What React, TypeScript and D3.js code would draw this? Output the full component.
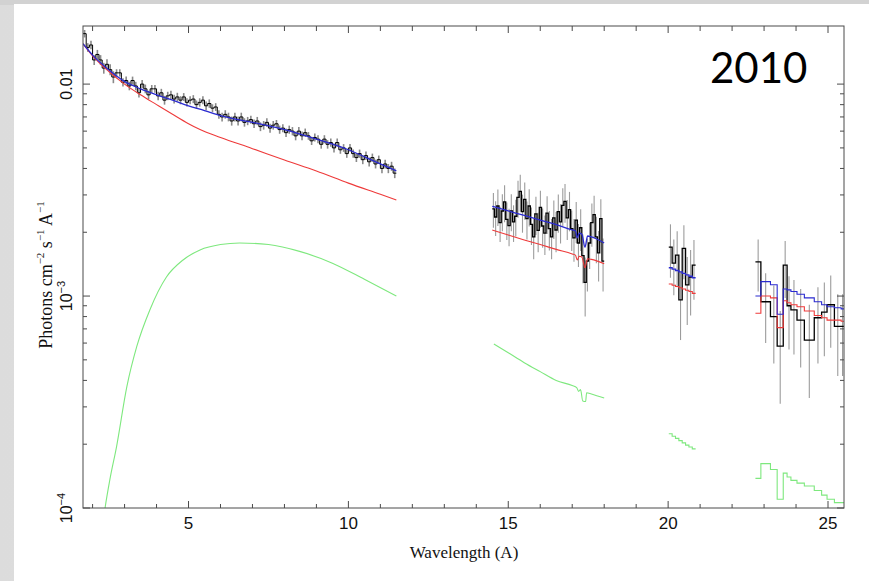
import React from 'react';
import * as d3 from 'd3';

// segment 1: 1.7 - 11.5 A, bins of 0.1 A
const seg1Start = 1.7;
const seg1Bin = 0.1;
const seg1Flux = [
  0.0173, 0.0149, 0.0153, 0.0130, 0.0138, 0.0130, 0.0119, 0.0124, 0.0117, 0.0108,
  0.0113, 0.0113, 0.0102, 0.0104, 0.0098, 0.0104, 0.0098, 0.0091, 0.0100, 0.0095,
  0.0089, 0.0095, 0.0095, 0.0088, 0.0091, 0.0084, 0.0088, 0.0089, 0.0085, 0.0087,
  0.0084, 0.0087, 0.0082, 0.0084, 0.0085, 0.0080, 0.0082, 0.0084, 0.0079, 0.0081,
  0.0077, 0.0078, 0.0072, 0.0070, 0.0072, 0.0070, 0.0067, 0.0070, 0.0067, 0.0070,
  0.0066, 0.0067, 0.0068, 0.0065, 0.0067, 0.0063, 0.0064, 0.0066, 0.0062, 0.0064,
  0.0065, 0.0061, 0.0062, 0.0059, 0.0061, 0.0060, 0.0057, 0.0060, 0.0057, 0.0059,
  0.0057, 0.0054, 0.0056, 0.0055, 0.0052, 0.0055, 0.0052, 0.0053, 0.0050, 0.0053,
  0.0049, 0.0050, 0.0047, 0.0050, 0.0047, 0.0045, 0.0047, 0.0044, 0.0046, 0.0043,
  0.0045, 0.0042, 0.0044, 0.0040, 0.0042, 0.0040, 0.0041, 0.0038,
];
// error size per 1 A band, starting at 1.7
const seg1SigmaBands = [0.0007, 0.00045, 0.0004, 0.00037, 0.00033, 0.0003, 0.00027, 0.00024, 0.00021, 0.0002];

const seg1Total: [number, number][] = [
  [1.7, 0.0155], [2.0, 0.0137], [2.5, 0.0117], [3.0, 0.0103], [3.5, 0.0095], [4.0, 0.0089],
  [4.5, 0.0084], [5.0, 0.0079], [5.5, 0.0075], [6.0, 0.0071], [7.0, 0.0066], [8.0, 0.0061],
  [9.0, 0.0055], [10.0, 0.0049], [11.0, 0.0042], [11.5, 0.0039],
];
const seg1Power: [number, number][] = [
  [1.7, 0.0155], [2.0, 0.0136], [2.5, 0.0115], [3.0, 0.0100], [3.5, 0.0089], [4.0, 0.0080],
  [4.5, 0.0072], [5.0, 0.0065], [5.36, 0.0061], [6.0, 0.0056], [7.0, 0.00496], [8.0, 0.00438],
  [9.0, 0.00389], [10.0, 0.00341], [11.0, 0.00302], [11.5, 0.00284],
];
const seg1Thermal: [number, number][] = [
  [2.3, 0.00008], [2.39, 0.0001], [2.54, 0.000136], [2.75, 0.000195], [3.07, 0.000373], [3.38, 0.000577],
  [3.79, 0.00086], [4.31, 0.00123], [4.83, 0.00148], [5.36, 0.00165], [6.0, 0.00175],
  [6.6, 0.00178], [7.5, 0.00175], [8.5, 0.00162], [9.5, 0.00143], [10.5, 0.0012], [11.5, 0.001],
];

// segment 2: 14.5 - 18.0 A, bins of 0.07 A
const seg2Start = 14.5;
const seg2Bin = 0.07;
const seg2Flux = [
  0.00258, 0.00236, 0.00266, 0.00222, 0.00252, 0.00278, 0.00230, 0.00215, 0.00252, 0.00224,
  0.00238, 0.00292, 0.00312, 0.00250, 0.00286, 0.00232, 0.00266, 0.00218, 0.00190, 0.00244,
  0.00204, 0.00262, 0.00214, 0.00198, 0.00246, 0.00208, 0.00190, 0.00234, 0.00205, 0.00250,
  0.00224, 0.00268, 0.00280, 0.00234, 0.00256, 0.00208, 0.00188, 0.00228, 0.00178, 0.00210,
  0.00155, 0.00116, 0.00146, 0.00178, 0.00222, 0.00242, 0.00190, 0.00160, 0.00232, 0.00146,
];
const seg2Sigma = [
  0.00048, 0.00044, 0.00052, 0.00042, 0.00050, 0.00055, 0.00046, 0.00043, 0.00050, 0.00044,
  0.00047, 0.00058, 0.00062, 0.00051, 0.00057, 0.00047, 0.00053, 0.00044, 0.00041, 0.00050,
  0.00043, 0.00052, 0.00045, 0.00042, 0.00050, 0.00044, 0.00041, 0.00048, 0.00044, 0.00051,
  0.00047, 0.00055, 0.00058, 0.00050, 0.00054, 0.00045, 0.00043, 0.00050, 0.00041, 0.00047,
  0.00040, 0.00036, 0.00041, 0.00044, 0.00051, 0.00055, 0.00047, 0.00043, 0.00054, 0.00041,
];
const seg2Total: [number, number][] = [
  [14.5, 0.00265], [15.0, 0.00252], [15.5, 0.0024], [16.0, 0.00228], [16.5, 0.00217], [17.0, 0.00205],
  [17.1, 0.00203], [17.16, 0.00188], [17.22, 0.00198], [17.3, 0.00196], [17.4, 0.0017],
  [17.48, 0.00192], [17.6, 0.0019], [18.0, 0.00178],
];
const seg2Power: [number, number][] = [
  [14.5, 0.00205], [15.0, 0.00194], [15.5, 0.00184], [16.0, 0.00175], [16.5, 0.00166], [17.0, 0.00158],
  [17.1, 0.00156], [17.16, 0.00148], [17.22, 0.00154], [17.3, 0.00153], [17.4, 0.00136],
  [17.48, 0.0015], [17.6, 0.00149], [18.0, 0.00142],
];
const seg2Thermal: [number, number][] = [
  [14.55, 0.000594], [15.0, 0.00054], [15.5, 0.000485], [16.0, 0.00044], [16.5, 0.0004], [17.0, 0.000378],
  [17.14, 0.00037], [17.2, 0.000355], [17.26, 0.000362], [17.33, 0.00032], [17.42, 0.000318],
  [17.45, 0.00035], [17.6, 0.000345], [18.0, 0.00033],
];

// segment 3: 20.0 - 20.9 A
const seg3Edges = [20.02, 20.125, 20.23, 20.335, 20.44, 20.545, 20.65, 20.755, 20.86];
const seg3Flux = [0.0017, 0.00143, 0.00156, 0.00096, 0.00168, 0.00113, 0.00123, 0.0014];
const seg3Sigma = [0.00048, 0.00042, 0.00046, 0.00034, 0.00048, 0.0004, 0.00042, 0.00044];
const seg3Total = [0.00136, 0.00134, 0.00132, 0.0013, 0.00128, 0.00126, 0.00124, 0.00122];
const seg3Power = [0.00114, 0.001125, 0.00111, 0.001095, 0.00108, 0.001065, 0.00105, 0.00103];
const seg3Thermal = [0.000224, 0.000218, 0.000213, 0.000208, 0.000203, 0.000198, 0.000194, 0.00019];

// segment 4: 22.7 - 25.5 A
const seg4Edges = [22.73, 22.9, 23.2, 23.41, 23.6, 23.72, 23.84, 24.03, 24.26, 24.57, 24.8, 24.97, 25.2, 25.41, 25.5];
const seg4Flux = [0.00145, 0.00094, 0.0008, 0.00058, 0.0014, 0.0009, 0.00086, 0.00077, 0.00062, 0.00079, 0.00084, 0.00091, 0.00072, 0.00072];
const seg4Sigma = [0.0004, 0.00034, 0.00032, 0.00027, 0.00042, 0.00034, 0.00033, 0.00031, 0.00029, 0.00031, 0.00032, 0.00034, 0.0003, 0.0003];
const seg4Total = [0.001, 0.00117, 0.00113, 0.00082, 0.00108, 0.00107, 0.00105, 0.00102, 0.00098, 0.00094, 0.00091, 0.00089, 0.00088, 0.00087];
const seg4Power = [0.00083, 0.001, 0.00098, 0.00071, 0.00095, 0.00093, 0.00091, 0.00089, 0.00085, 0.00081, 0.00079, 0.00077, 0.00077, 0.00076];
const seg4Thermal = [0.000138, 0.000162, 0.000152, 0.00011, 0.000146, 0.00014, 0.000135, 0.000131, 0.000127, 0.000121, 0.000115, 0.00011, 0.000106, 0.000106];

const xMajor = [5, 10, 15, 20, 25];
const yMajor = [1e-4, 1e-3, 1e-2];
const yMajorLabels = [['10', '−4'], ['10', '−3'], ['0.01', '']];

const W = 869;
const H = 581;
const plot = { left: 83, right: 844, top: 26, bottom: 508 };

const BLACK = '#000';
const ERR = '#9c9c9c';
const BLUE = '#2a2ad0';
const RED = '#ee3a3a';
const GREEN = '#7ee87e';

type Bin = { x0: number; x1: number; v: number; s?: number };

const makeBins = (edges: number[], vals: number[], sig?: number[]): Bin[] =>
  vals.map((v, i) => ({ x0: edges[i], x1: edges[i + 1], v, s: sig ? sig[i] : undefined }));

const regularEdges = (start: number, width: number, n: number) =>
  d3.range(n + 1).map(i => start + width * i);

export default function App() {
  const x = d3.scaleLinear().domain([1.7, 25.5]).range([plot.left, plot.right]);
  const y = d3.scaleLog().domain([1e-4, 0.0188]).range([plot.bottom, plot.top]);

  const smooth = d3.line<[number, number]>()
    .x(d => x(d[0]))
    .y(d => y(d[1]))
    .curve(d3.curveMonotoneX);

  const step = (bins: Bin[]) => {
    const pts: [number, number][] = bins.map(b => [b.x0, b.v]);
    const last = bins[bins.length - 1];
    pts.push([last.x1, last.v]);
    return d3.line<[number, number]>()
      .x(d => x(d[0]))
      .y(d => y(d[1]))
      .curve(d3.curveStepAfter)(pts) || '';
  };

  const seg1Edges = regularEdges(seg1Start, seg1Bin, seg1Flux.length);
  const seg1Sigma = seg1Flux.map((_, i) => seg1SigmaBands[Math.min(seg1SigmaBands.length - 1, Math.floor(i * seg1Bin + 1e-6))]);
  const seg2Edges = regularEdges(seg2Start, seg2Bin, seg2Flux.length);

  const data1 = makeBins(seg1Edges, seg1Flux, seg1Sigma);
  const data2 = makeBins(seg2Edges, seg2Flux, seg2Sigma);
  const data3 = makeBins(seg3Edges, seg3Flux, seg3Sigma);
  const data4 = makeBins(seg4Edges, seg4Flux, seg4Sigma);
  const allData = [data1, data2, data3, data4];

  const xMinor = d3.range(2, 26).filter(v => !xMajor.includes(v));
  const yMinor: number[] = [];
  [1e-4, 1e-3, 1e-2].forEach(dec => {
    for (let k = 2; k <= 9; k++) {
      const v = dec * k;
      if (v < 0.0188) yMinor.push(v);
    }
  });

  const axisColor = '#4a4a4a';
  const sans = "'Liberation Sans', Arial, sans-serif";
  const serif = "'Liberation Serif', 'Times New Roman', serif";

  return (
    <svg width={W} height={H} style={{ position: 'absolute', left: 0, top: 0 }}>
      <defs>
        <linearGradient id="leftStrip" x1="0" x2="1" y1="0" y2="0">
          <stop offset="0" stopColor="#dcdcdc" />
          <stop offset="1" stopColor="#e8e8e8" />
        </linearGradient>
        <clipPath id="plotClip">
          <rect x={plot.left} y={plot.top} width={plot.right - plot.left} height={plot.bottom - plot.top} />
        </clipPath>
      </defs>
      <rect x={0} y={0} width={W} height={H} fill="url(#leftStrip)" />
      <rect x={0} y={0} width={W} height={5} fill="#d2d2d2" />
      <rect x={14} y={4} width={W - 14} height={H - 4} fill="#fff" />

      <g clipPath="url(#plotClip)">
        {/* error bars */}
        {allData.map((seg, si) => (
          <g key={'e' + si} stroke={si === 0 ? '#8a8a8a' : ERR} strokeWidth={si === 0 ? 1.6 : 1.1}>
            {seg.map((b, i) => {
              const cx = x((b.x0 + b.x1) / 2);
              const s = b.s || 0;
              return <line key={i} x1={cx} x2={cx} y1={y(b.v + s)} y2={y(Math.max(b.v - s, 1e-5))} />;
            })}
          </g>
        ))}
        {/* data */}
        {allData.map((seg, si) => (
          <path key={'d' + si} d={step(seg)} fill="none" stroke={BLACK} strokeWidth={si === 0 ? 1 : 1.3} />
        ))}
        {/* thermal component */}
        <path d={smooth(seg1Thermal) || ''} fill="none" stroke={GREEN} strokeWidth={1.1} />
        <path d={smooth(seg2Thermal) || ''} fill="none" stroke={GREEN} strokeWidth={1.1} />
        <path d={step(makeBins(seg3Edges, seg3Thermal))} fill="none" stroke={GREEN} strokeWidth={1.1} />
        <path d={step(makeBins(seg4Edges, seg4Thermal))} fill="none" stroke={GREEN} strokeWidth={1.1} />
        {/* power law component */}
        <path d={smooth(seg1Power) || ''} fill="none" stroke={RED} strokeWidth={1.1} />
        <path d={smooth(seg2Power) || ''} fill="none" stroke={RED} strokeWidth={1.1} />
        <path d={step(makeBins(seg3Edges, seg3Power))} fill="none" stroke={RED} strokeWidth={1.1} />
        <path d={step(makeBins(seg4Edges, seg4Power))} fill="none" stroke={RED} strokeWidth={1.1} />
        {/* total model */}
        <path d={smooth(seg1Total) || ''} fill="none" stroke={BLUE} strokeWidth={1.3} />
        <path d={smooth(seg2Total) || ''} fill="none" stroke={BLUE} strokeWidth={1.3} />
        <path d={step(makeBins(seg3Edges, seg3Total))} fill="none" stroke={BLUE} strokeWidth={1.3} />
        <path d={step(makeBins(seg4Edges, seg4Total))} fill="none" stroke={BLUE} strokeWidth={1.1} />
      </g>

      {/* frame */}
      <rect x={plot.left} y={plot.top} width={plot.right - plot.left} height={plot.bottom - plot.top}
        fill="none" stroke={axisColor} strokeWidth={1} />

      {/* ticks */}
      <g stroke={axisColor} strokeWidth={1}>
        {xMajor.map(v => (
          <g key={'xM' + v}>
            <line x1={x(v)} x2={x(v)} y1={plot.bottom} y2={plot.bottom - 7} />
            <line x1={x(v)} x2={x(v)} y1={plot.top} y2={plot.top + 7} />
          </g>
        ))}
        {xMinor.map(v => (
          <g key={'xm' + v}>
            <line x1={x(v)} x2={x(v)} y1={plot.bottom} y2={plot.bottom - 4} />
            <line x1={x(v)} x2={x(v)} y1={plot.top} y2={plot.top + 5} />
          </g>
        ))}
        {yMajor.map(v => (
          <g key={'yM' + v}>
            <line x1={plot.left} x2={plot.left + 7} y1={y(v)} y2={y(v)} />
            <line x1={plot.right} x2={plot.right - 7} y1={y(v)} y2={y(v)} />
          </g>
        ))}
        {yMinor.map(v => (
          <g key={'ym' + v}>
            <line x1={plot.left} x2={plot.left + 4} y1={y(v)} y2={y(v)} />
            <line x1={plot.right} x2={plot.right - 4} y1={y(v)} y2={y(v)} />
          </g>
        ))}
      </g>

      {/* x tick labels */}
      <g fontFamily={sans} fontSize={17} textAnchor="middle" fill="#111">
        {xMajor.map(v => (
          <text key={'xl' + v} x={x(v)} y={529}>{v}</text>
        ))}
      </g>

      {/* y tick labels */}
      <g fontFamily={sans} fontSize={16} fill="#111">
        {yMajor.map((v, i) => (
          <text key={'yl' + v} transform={`translate(72,${y(v)}) rotate(-90)`} textAnchor="middle">
            {yMajorLabels[i][0]}
            {yMajorLabels[i][1] && (
              <tspan fontSize={11} dy={-7}>{yMajorLabels[i][1]}</tspan>
            )}
          </text>
        ))}
      </g>

      {/* axis titles */}
      <text x={464} y={558} fontFamily={serif} fontSize={17} textAnchor="middle" fill="#111">Wavelength (A)</text>
      <text transform="translate(52,275) rotate(-90)" fontFamily={serif} fontSize={18} textAnchor="middle" fill="#111">
        Photons cm<tspan fontSize={11} dy={-8}>−2</tspan>
        <tspan dy={8}> s</tspan><tspan fontSize={11} dy={-8}>−1</tspan>
        <tspan dy={8}> A</tspan><tspan fontSize={11} dy={-8}>−1</tspan>
      </text>

      <text x={710} y={83} fontFamily="Lato, sans-serif" fontSize={42} fill="#000">2010</text>
    </svg>
  );
}
